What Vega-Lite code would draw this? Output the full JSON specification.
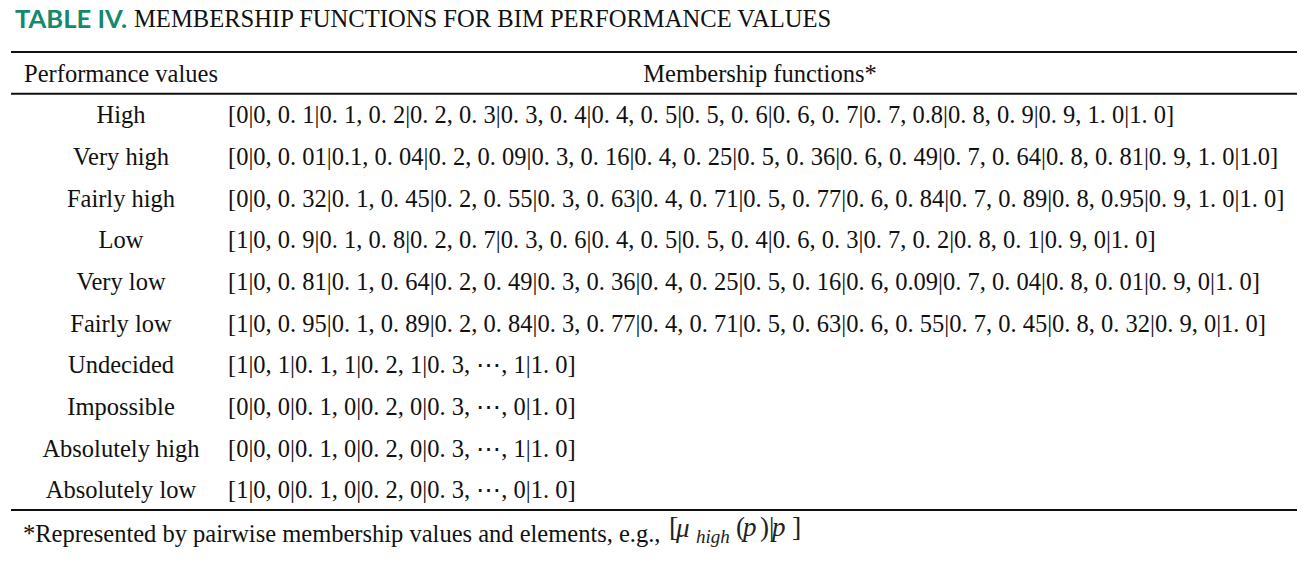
{
  "$schema": "https://vega.github.io/schema/vega-lite/v6.json",
  "width": 1316,
  "height": 561,
  "autosize": {"type": "fit", "contains": "padding"},
  "padding": {"left": 10, "right": 18, "top": 0, "bottom": 0},
  "background": "white",
  "config": {"view": {"stroke": null}, "text": {"font": "Liberation Serif", "fontSize": 24.5, "color": "#111", "baseline": "middle"}},
  "datasets": {
    "cells": [
      {"row": 0, "column": "Performance values", "text": "Performance values"},
      {"row": 0, "column": "Membership functions", "text": "Membership functions*"},
      {"row": 1, "column": "Performance values", "text": "High"},
      {"row": 1, "column": "Membership functions", "text": "[0|0, 0. 1|0. 1, 0. 2|0. 2, 0. 3|0. 3, 0. 4|0. 4, 0. 5|0. 5, 0. 6|0. 6, 0. 7|0. 7, 0.8|0. 8, 0. 9|0. 9, 1. 0|1. 0]"},
      {"row": 2, "column": "Performance values", "text": "Very high"},
      {"row": 2, "column": "Membership functions", "text": "[0|0, 0. 01|0.1, 0. 04|0. 2, 0. 09|0. 3, 0. 16|0. 4, 0. 25|0. 5, 0. 36|0. 6, 0. 49|0. 7, 0. 64|0. 8, 0. 81|0. 9, 1. 0|1.0]"},
      {"row": 3, "column": "Performance values", "text": "Fairly high"},
      {"row": 3, "column": "Membership functions", "text": "[0|0, 0. 32|0. 1, 0. 45|0. 2, 0. 55|0. 3, 0. 63|0. 4, 0. 71|0. 5, 0. 77|0. 6, 0. 84|0. 7, 0. 89|0. 8, 0.95|0. 9, 1. 0|1. 0]"},
      {"row": 4, "column": "Performance values", "text": "Low"},
      {"row": 4, "column": "Membership functions", "text": "[1|0, 0. 9|0. 1, 0. 8|0. 2, 0. 7|0. 3, 0. 6|0. 4, 0. 5|0. 5, 0. 4|0. 6, 0. 3|0. 7, 0. 2|0. 8, 0. 1|0. 9, 0|1. 0]"},
      {"row": 5, "column": "Performance values", "text": "Very low"},
      {"row": 5, "column": "Membership functions", "text": "[1|0, 0. 81|0. 1, 0. 64|0. 2, 0. 49|0. 3, 0. 36|0. 4, 0. 25|0. 5, 0. 16|0. 6, 0.09|0. 7, 0. 04|0. 8, 0. 01|0. 9, 0|1. 0]"},
      {"row": 6, "column": "Performance values", "text": "Fairly low"},
      {"row": 6, "column": "Membership functions", "text": "[1|0, 0. 95|0. 1, 0. 89|0. 2, 0. 84|0. 3, 0. 77|0. 4, 0. 71|0. 5, 0. 63|0. 6, 0. 55|0. 7, 0. 45|0. 8, 0. 32|0. 9, 0|1. 0]"},
      {"row": 7, "column": "Performance values", "text": "Undecided"},
      {"row": 7, "column": "Membership functions", "text": "[1|0, 1|0. 1, 1|0. 2, 1|0. 3, ⋯, 1|1. 0]"},
      {"row": 8, "column": "Performance values", "text": "Impossible"},
      {"row": 8, "column": "Membership functions", "text": "[0|0, 0|0. 1, 0|0. 2, 0|0. 3, ⋯, 0|1. 0]"},
      {"row": 9, "column": "Performance values", "text": "Absolutely high"},
      {"row": 9, "column": "Membership functions", "text": "[0|0, 0|0. 1, 0|0. 2, 0|0. 3, ⋯, 1|1. 0]"},
      {"row": 10, "column": "Performance values", "text": "Absolutely low"},
      {"row": 10, "column": "Membership functions", "text": "[1|0, 0|0. 1, 0|0. 2, 0|0. 3, ⋯, 0|1. 0]"}
    ],
    "lines": [{"row": -0.5}, {"row": 0.5}, {"row": 10.5}],
    "notes": [
      {"row": -1, "column": "Performance values", "part": "label", "text": "TABLE IV."},
      {"row": -1, "column": "Performance values", "part": "title", "text": "MEMBERSHIP FUNCTIONS FOR BIM PERFORMANCE VALUES"},
      {"row": 11, "column": "Performance values", "part": "note", "text": "*Represented by pairwise membership values and elements, e.g.,"},
      {"row": 11, "column": "Performance values", "part": "m1", "text": "["},
      {"row": 11, "column": "Performance values", "part": "m2", "text": "μ"},
      {"row": 11, "column": "Performance values", "part": "m3", "text": "high"},
      {"row": 11, "column": "Performance values", "part": "m4", "text": "("},
      {"row": 11, "column": "Performance values", "part": "m5", "text": "p"},
      {"row": 11, "column": "Performance values", "part": "m6", "text": ")|"},
      {"row": 11, "column": "Performance values", "part": "m7", "text": "p"},
      {"row": 11, "column": "Performance values", "part": "m8", "text": "]"}
    ]
  },
  "encoding": {
    "y": {"field": "row", "type": "quantitative", "scale": {"domain": [-0.5, 10.5], "range": [52, 510], "zero": false, "nice": false}, "axis": null},
    "x": {"field": "column", "type": "nominal", "scale": {"type": "point", "domain": ["Performance values", "Membership functions"], "range": [110, 217], "padding": 0}, "axis": null}
  },
  "layer": [
    {
      "data": {"name": "lines"},
      "mark": {"type": "rule", "stroke": "#111", "strokeWidth": 2},
      "encoding": {"x": null}
    },
    {
      "data": {"name": "cells"},
      "transform": [{"filter": "datum.column === 'Performance values'"}],
      "mark": {"type": "text", "align": "center", "dy": 2},
      "encoding": {"text": {"field": "text"}}
    },
    {
      "data": {"name": "cells"},
      "transform": [{"filter": "datum.column === 'Membership functions' && datum.row > 0"}],
      "mark": {"type": "text", "align": "left", "dy": 2},
      "encoding": {"text": {"field": "text"}}
    },
    {
      "data": {"name": "cells"},
      "transform": [{"filter": "datum.column === 'Membership functions' && datum.row === 0"}],
      "mark": {"type": "text", "align": "center", "dx": 532, "dy": 2},
      "encoding": {"text": {"field": "text"}}
    },
    {
      "data": {"name": "notes"},
      "transform": [{"filter": "datum.part === 'label'"}],
      "mark": {"type": "text", "align": "left", "dx": -106, "dy": -11, "font": "Lato", "fontWeight": "bold", "fontSize": 25.6, "color": "#138a6c"},
      "encoding": {"text": {"field": "text"}}
    },
    {
      "data": {"name": "notes"},
      "transform": [{"filter": "datum.part === 'title'"}],
      "mark": {"type": "text", "align": "left", "dx": 13, "dy": -11, "fontSize": 24.6},
      "encoding": {"text": {"field": "text"}}
    },
    {
      "data": {"name": "notes"},
      "transform": [{"filter": "datum.part === 'note'"}],
      "mark": {"type": "text", "align": "left", "dx": -98, "dy": 4},
      "encoding": {"text": {"field": "text"}}
    },
    {
      "data": {"name": "notes"},
      "transform": [{"filter": "datum.part === 'm1'"}],
      "mark": {"type": "text", "align": "left", "dx": 548, "dy": -3, "fontSize": 28, "color": "#222"},
      "encoding": {"text": {"field": "text"}}
    },
    {
      "data": {"name": "notes"},
      "transform": [{"filter": "datum.part === 'm2'"}],
      "mark": {"type": "text", "align": "left", "dx": 555, "dy": -2, "fontStyle": "italic", "fontSize": 27, "color": "#222"},
      "encoding": {"text": {"field": "text"}}
    },
    {
      "data": {"name": "notes"},
      "transform": [{"filter": "datum.part === 'm3'"}],
      "mark": {"type": "text", "align": "left", "dx": 575, "dy": 6, "fontStyle": "italic", "fontSize": 19, "color": "#222"},
      "encoding": {"text": {"field": "text"}}
    },
    {
      "data": {"name": "notes"},
      "transform": [{"filter": "datum.part === 'm4'"}],
      "mark": {"type": "text", "align": "left", "dx": 615, "dy": -3, "fontSize": 27, "color": "#222"},
      "encoding": {"text": {"field": "text"}}
    },
    {
      "data": {"name": "notes"},
      "transform": [{"filter": "datum.part === 'm5'"}],
      "mark": {"type": "text", "align": "left", "dx": 622, "dy": -3, "fontStyle": "italic", "fontSize": 27, "color": "#222"},
      "encoding": {"text": {"field": "text"}}
    },
    {
      "data": {"name": "notes"},
      "transform": [{"filter": "datum.part === 'm6'"}],
      "mark": {"type": "text", "align": "left", "dx": 639, "dy": -3, "fontSize": 27, "color": "#222"},
      "encoding": {"text": {"field": "text"}}
    },
    {
      "data": {"name": "notes"},
      "transform": [{"filter": "datum.part === 'm7'"}],
      "mark": {"type": "text", "align": "left", "dx": 651, "dy": -3, "fontStyle": "italic", "fontSize": 27, "color": "#222"},
      "encoding": {"text": {"field": "text"}}
    },
    {
      "data": {"name": "notes"},
      "transform": [{"filter": "datum.part === 'm8'"}],
      "mark": {"type": "text", "align": "left", "dx": 671, "dy": -3, "fontSize": 28, "color": "#222"},
      "encoding": {"text": {"field": "text"}}
    }
  ]
}
